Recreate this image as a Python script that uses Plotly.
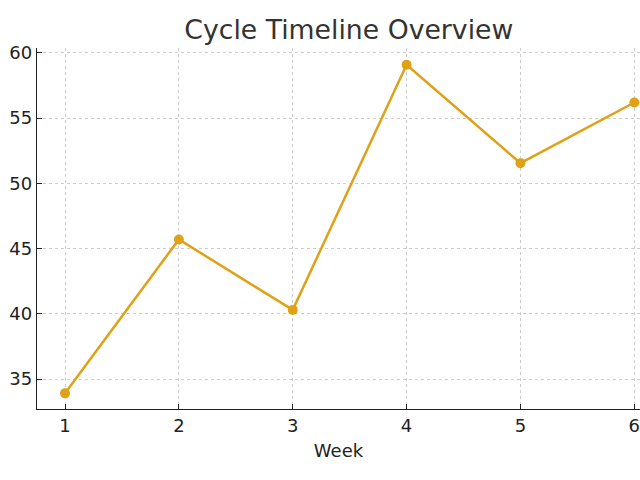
import plotly.graph_objects as go

# Data
weeks = [1, 2, 3, 4, 5, 6]
values = [33.9, 45.7, 40.3, 59.1, 51.55, 56.2]

line_color = '#E0A117'

fig = go.Figure(data=go.Scatter(
    x=weeks,
    y=values,
    mode='lines+markers',
    line=dict(color=line_color, width=2.5),
    marker=dict(color=line_color, size=10),
    cliponaxis=False,
))

fig.update_layout(
    width=640,
    height=480,
    title=dict(text='Cycle Timeline Overview', x=0.545, xanchor='center',
               y=0.9375, yanchor='middle',
               font=dict(family='DejaVu Sans', size=26.7, color='#333333')),
    font=dict(family='DejaVu Sans', color='#222222'),
    paper_bgcolor='white',
    plot_bgcolor='white',
    margin=dict(l=37, r=0, t=48, b=71, autoexpand=False),
    showlegend=False,
    xaxis=dict(
        title=dict(text='Week', font=dict(size=18), standoff=9),
        range=[0.754, 6.05],
        tickvals=weeks,
        tickfont=dict(size=18),
        ticklabeloverflow='allow',
        ticks='inside', ticklen=5, tickcolor='#222222',
        showline=True, linecolor='#222222', linewidth=1.3,
        showgrid=True, gridcolor='#cccccc', griddash='3px,3px', gridwidth=1,
        zeroline=False, automargin=False,
    ),
    yaxis=dict(
        range=[32.7, 60.38],
        tickvals=[35, 40, 45, 50, 55, 60],
        tickfont=dict(size=18),
        ticks='inside', ticklen=5, tickcolor='#222222',
        showline=True, linecolor='#222222', linewidth=1.3,
        showgrid=True, gridcolor='#cccccc', griddash='3px,3px', gridwidth=1,
        zeroline=False, automargin=False,
    ),
)

# drop the page's default body margin so the figure fills the window
fig.write_html('out.html',
               config={'displayModeBar': False},
               post_script="document.body.style.margin='0';"
                           "document.body.style.overflow='hidden';")
